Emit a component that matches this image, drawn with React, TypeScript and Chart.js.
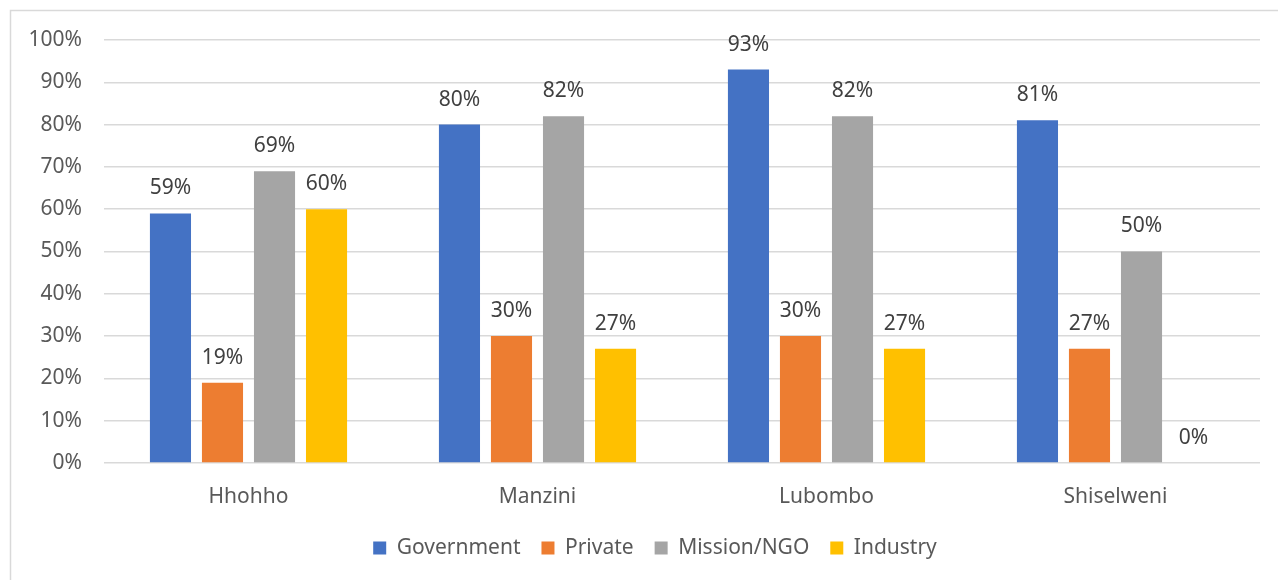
import { useEffect, useRef } from "react";
import { Chart, registerables } from "chart.js";

Chart.register(...registerables);

const categories = ["Hhohho", "Manzini", "Lubombo", "Shiselweni"];
const seriesNames = ["Government", "Private", "Mission/NGO", "Industry"];
const government = [59, 80, 93, 81];
const privateSector = [19, 30, 30, 27];
const missionNgo = [69, 82, 82, 50];
const industry = [60, 27, 27, 0];
const seriesColors = ["#4472C4", "#ED7D31", "#A5A5A5", "#FFC000"];
const yMin = 0;
const yMax = 100;
const yStep = 10;

const FONT = "'Noto Sans', sans-serif";
const FSIZE = 21;

const borderPlugin = {
  id: "frameBorder",
  beforeDraw(chart: any) {
    const ctx = chart.ctx;
    ctx.save();
    ctx.fillStyle = "#ffffff";
    ctx.fillRect(0, 0, chart.width, chart.height);
    ctx.strokeStyle = "#d9d9d9";
    ctx.lineWidth = 1.5;
    ctx.beginPath();
    ctx.moveTo(10.5, chart.height);
    ctx.lineTo(10.5, 10.5);
    ctx.lineTo(chart.width, 10.5);
    ctx.stroke();
    ctx.restore();
  },
};

const legendShiftPlugin = {
  id: "legendShift",
  afterLayout(chart: any) {
    const lg = chart.legend;
    if (lg) {
      lg.left += 20;
      lg.right += 20;
    }
  },
};

const valueLabelPlugin = {
  id: "valueLabels",
  afterDatasetsDraw(chart: any) {
    const ctx = chart.ctx;
    ctx.save();
    ctx.font = `${FSIZE}px ${FONT}`;
    ctx.fillStyle = "#404040";
    ctx.textAlign = "center";
    ctx.textBaseline = "middle";
    chart.data.datasets.forEach((ds: any, i: number) => {
      const meta = chart.getDatasetMeta(i);
      meta.data.forEach((el: any, j: number) => {
        ctx.fillText(`${ds.data[j]}%`, el.x, el.y - 25);
      });
    });
    ctx.restore();
  },
};

export default function App() {
  const ref = useRef<HTMLCanvasElement | null>(null);
  useEffect(() => {
    if (!ref.current) return;
    const values = [government, privateSector, missionNgo, industry];
    const chart = new Chart(ref.current, {
      type: "bar",
      data: {
        labels: categories,
        datasets: seriesNames.map((name, i) => ({
          label: name,
          data: values[i],
          backgroundColor: seriesColors[i],
          borderWidth: 0,
          categoryPercentage: 0.72,
          barPercentage: 0.79,
        })),
      },
      options: {
        responsive: false,
        animation: false,
        devicePixelRatio: 1,
        layout: { padding: { top: 40, left: 10, right: 18, bottom: 11.5 } },
        plugins: {
          tooltip: { enabled: false },
          legend: {
            position: "bottom",
            labels: {
              boxWidth: 13,
              boxHeight: 13,
              padding: 21,
              color: "#595959",
              font: { family: FONT, size: FSIZE },
            },
          },
        },
        scales: {
          x: {
            grid: { display: false, drawTicks: false },
            border: { display: false },
            ticks: { color: "#595959", font: { family: FONT, size: FSIZE }, padding: 21 },
            afterFit: (s: any) => {
              s.height = 53.5;
            },
          },
          y: {
            min: yMin,
            max: yMax,
            grid: { color: "#d9d9d9", lineWidth: 1.5, drawTicks: false },
            border: { display: false },
            ticks: {
              stepSize: yStep,
              color: "#595959",
              font: { family: FONT, size: FSIZE },
              padding: 22,
              callback: (v: any) => `${v}%`,
            },
            afterFit: (s: any) => {
              s.width = 94;
            },
          },
        },
      },
      plugins: [borderPlugin, legendShiftPlugin, valueLabelPlugin],
    });
    return () => chart.destroy();
  }, []);
  return (
    <div style={{ position: "absolute", left: 0, top: 0, width: 1278, height: 580, overflow: "hidden" }}>
      <canvas ref={ref} width={1278} height={580} style={{ display: "block" }} />
    </div>
  );
}
